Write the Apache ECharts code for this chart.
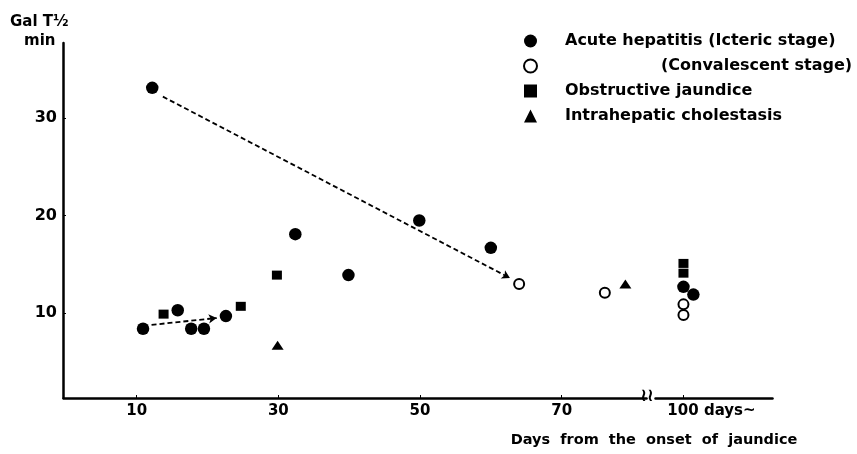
<!DOCTYPE html>
<html><head><meta charset="utf-8">
<script src="https://cdn.jsdelivr.net/npm/echarts@6/dist/echarts.min.js"></script>
<style>html,body{margin:0;padding:0;background:#fff}#c{width:857px;height:454px}</style>
</head><body><div id="c"></div>
<script>
// ---- data ----
const seriesNames = ['Acute hepatitis (Icteric stage)', '(Convalescent stage)', 'Obstructive jaundice', 'Intrahepatic cholestasis'];
const icteric = [[12.2,33.1],[10.9,8.4],[15.8,10.3],[17.7,8.4],[19.5,8.4],[22.6,9.7],[32.4,18.1],[39.9,13.9],[49.9,19.5],[60.0,16.7],[100,12.7],[101.4,11.9]];
const convalescent = [[64.0,13.0],[76.1,12.1],[100,10.9],[100,9.8]];
const obstructive = [[13.8,9.9],[24.7,10.7],[29.8,13.9],[100,15.1],[100,14.1]];
const intrahepatic = [[29.9,6.7],[79.0,13.0]];
const arrowLines = [[[13.7,32.2],[62.7,13.6]], [[12.1,8.8],[21.3,9.5]]];
const xTickValues = [10, 30, 50, 70, 100];
const yTickValues = [10, 20, 30];
const xTitle = 'Days  from  the  onset  of  jaundice';
const yTitle1 = 'Gal T½';
const yTitle2 = 'min';

const FONT = 'DejaVu Sans';
const INK = '#000';

const chart = echarts.init(document.getElementById('c'), null, {renderer: 'canvas'});

const option = {
  backgroundColor: '#fff',
  animation: false,
  textStyle: {fontFamily: FONT, color: INK},
  grid: {left: 63, right: 85, top: 43, bottom: 56, containLabel: false},
  legend: {
    orient: 'vertical', left: 518, top: 27, itemWidth: 13, itemHeight: 13, itemGap: 7,
    selectedMode: false,
    data: [
      {name: seriesNames[0], icon: 'circle'},
      {name: seriesNames[1], icon: 'circle'},
      {name: seriesNames[2], icon: 'rect'},
      {name: seriesNames[3], icon: 'triangle'}
    ],
    formatter: function (name) {
      return (name === seriesNames[1] ? '{q|}' : '{p|}') + '{t|' + name + '}';
    },
    textStyle: {
      fontFamily: FONT, fontSize: 16, fontWeight: 'bold', color: INK, lineHeight: 18,
      rich: {
        p: {width: 23, lineHeight: 18},
        q: {width: 119, lineHeight: 18},
        t: {fontFamily: FONT, fontSize: 16, fontWeight: 'bold', color: INK, lineHeight: 18}
      }
    }
  },
  xAxis: {
    type: 'value', min: -0.4, max: 112.5,
    breaks: [{start: 82, end: 96, gap: 1.2}],
    breakArea: {show: true, expandOnClick: false,
      itemStyle: {color: 'rgba(0,0,0,0)', borderColor: 'rgba(0,0,0,0)', borderWidth: 0}},
    axisLine: {show: true, onZero: false, lineStyle: {color: INK, width: 2.5}},
    axisTick: {show: true, inside: true, length: 3, customValues: xTickValues, lineStyle: {color: INK, width: 1}},
    axisLabel: {
      customValues: xTickValues, margin: 6, color: INK, fontFamily: FONT, fontSize: 15, fontWeight: 'bold',
      formatter: function (v) { return v === 100 ? '{s|}100 days~' : String(v); },
      rich: {s: {width: 56}}
    },
    splitLine: {show: false}
  },
  yAxis: {
    type: 'value', min: 1.3, max: 37.7,
    axisLine: {show: true, onZero: false, lineStyle: {color: INK, width: 2.5}},
    axisTick: {show: true, inside: true, length: 3, customValues: yTickValues, lineStyle: {color: INK, width: 1}},
    axisLabel: {customValues: yTickValues, margin: 6, color: INK, fontFamily: FONT, fontSize: 16, fontWeight: 'bold'},
    splitLine: {show: false}
  },
  series: [
    {
      name: seriesNames[0], type: 'scatter', data: icteric, symbol: 'circle', symbolSize: 12.5,
      itemStyle: {color: INK, opacity: 1}, z: 3,
      markLine: {
        silent: true, symbol: ['none', 'arrow'], symbolSize: [7, 8],
        label: {show: false},
        lineStyle: {color: INK, type: [5, 3], width: 1.8},
        data: arrowLines.map(function (l) { return [{coord: l[0]}, {coord: l[1]}]; })
      }
    },
    {
      name: seriesNames[1], type: 'scatter', data: convalescent, symbol: 'circle', symbolSize: 10,
      itemStyle: {color: '#fff', borderColor: INK, borderWidth: 2, opacity: 1}, z: 3
    },
    {
      name: seriesNames[2], type: 'scatter', data: obstructive, symbol: 'rect', symbolSize: [10, 9],
      itemStyle: {color: INK, opacity: 1}, z: 3
    },
    {
      name: seriesNames[3], type: 'scatter', data: intrahepatic, symbol: 'triangle', symbolSize: [12, 9],
      itemStyle: {color: INK, opacity: 1}, z: 3
    }
  ]
};
chart.setOption(option);

// axis titles and break mark placed from the axes' own scales
const brk = chart.convertToPixel({gridIndex: 0}, [82.6, 1.3]);
chart.setOption({
  graphic: [
    {type: 'text', left: 10, top: 15, style: {text: yTitle1, font: 'bold 15px ' + FONT, fill: INK}},
    {type: 'text', left: 24, top: 34, style: {text: yTitle2, font: 'bold 15px ' + FONT, fill: INK}},
    {type: 'text', x: 654, y: 440, style: {text: xTitle, font: 'bold 14.5px ' + FONT, fill: INK, align: 'center', verticalAlign: 'middle'}},
    {type: 'text', x: brk[0], y: brk[1] - 2, z: 10, style: {text: '≀≀', font: 'bold 18px DejaVu Sans', fill: INK, align: 'center', verticalAlign: 'middle'}}
  ]
});
</script>
</body></html>
